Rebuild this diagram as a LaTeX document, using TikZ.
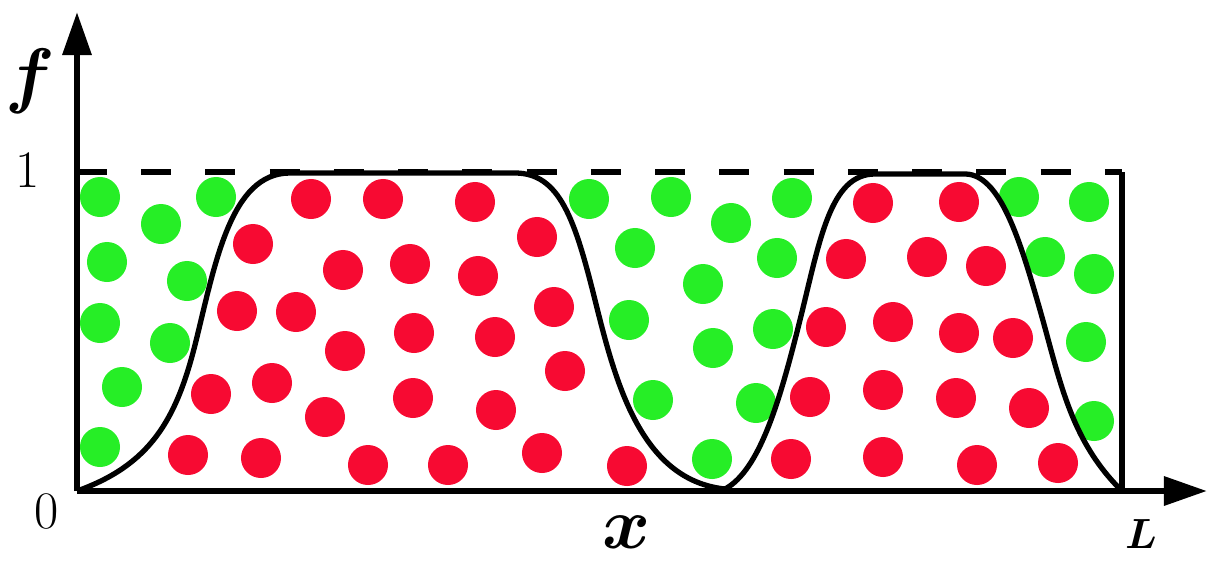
\documentclass[tikz,border=0pt]{standalone}
\usepackage{bm}
\usetikzlibrary{arrows.meta}
\definecolor{cgreen}{HTML}{26EE26}
\definecolor{cred}{HTML}{F70A32}
\tikzset{
  axis/.style={line width=1.8pt, -{Triangle[length=4.3mm, width=2.8mm]}},
  ball/.style={fill=#1},
  ball/.default=cred,
  profile/.style={line width=1.5pt, line join=round},
  levelline/.style={line width=1.9pt, dash pattern=on 3mm off 3.42mm},
  lab/.style={inner sep=0pt},
}

\begin{document}
\begin{tikzpicture}[x=0.01cm, y=-0.01cm]
  \useasboundingbox (0,0) rectangle (1215,560);
  \coordinate (O) at (77,491);
  \coordinate (ytip) at (77,12);
  \coordinate (xtip) at (1207,491);
  \coordinate (top) at (77,172);
  \coordinate (corner) at (1122,172);
  \coordinate (end) at (1122,491);

  % green particles
  \foreach \x/\y in {100/197, 161/224, 216/197, 107/262, 187/281, 100/323, 170/343,
      122/387, 100/447, 589/199, 671/197, 731/223, 792/198, 635/248, 777/258,
      703/284, 629/320, 773/329, 713/348, 653/400, 756/403, 712/459,
      1019/197, 1089/202, 1045/257, 1094/274, 1086/342, 1094/421}
    \fill[ball=cgreen] (\x,\y) circle[radius=0.2cm];
  % red particles
  \foreach \x/\y in {311/199, 383/199, 475/202, 253/244, 537/237, 343/270, 410/264,
      478/276, 237/311, 296/312, 554/307, 345/351, 414/333, 495/337, 211/394,
      272/383, 565/371, 325/417, 413/398, 496/410, 188/455, 261/458, 368/465,
      448/465, 542/453, 627/466, 873/203, 959/202, 846/259, 927/257, 986/266,
      826/327, 893/322, 959/333, 1013/338, 810/397, 883/390, 956/398, 1029/408,
      791/459, 883/457, 977/465, 1058/463}
    \fill[ball] (\x,\y) circle[radius=0.2cm];

  \draw[levelline] (top) -- (corner);
  \draw[line width=1.7pt] (corner) -- (end);
  \draw[axis] (O) -- (ytip);
  \draw[axis] (O) -- (xtip);

  % phase profile
  \draw[profile] (O) .. controls (150,465) and (176,420) .. (195,345)
    .. controls (215,265) and (230,173) .. (290,173) -- (515,173)
    .. controls (560,173) and (575,220) .. (595,300)
    .. controls (615,380) and (640,480) .. (725,489)
    .. controls (760,470) and (780,400) .. (800,320)
    .. controls (820,240) and (830,174) .. (875,174) -- (965,174)
    .. controls (1000,174) and (1020,240) .. (1040,310)
    .. controls (1060,380) and (1070,440) .. (end);

  \node[lab] (flab) at (30,81) {\fontsize{20}{24}\selectfont$\bm{f}$};
  \node[lab] (one) at (28,170) {\fontsize{15}{18}\selectfont 1};
  \node[lab] (zero) at (47,511) {\fontsize{15}{18}\selectfont 0};
  \node[lab] (xlab) at (627,532) {\fontsize{21}{25}\selectfont$\bm{x}$};
  \node[lab] (llab) at (1141,534) {\fontsize{12}{14}\selectfont$\bm{L}$};
\end{tikzpicture}
\end{document}
